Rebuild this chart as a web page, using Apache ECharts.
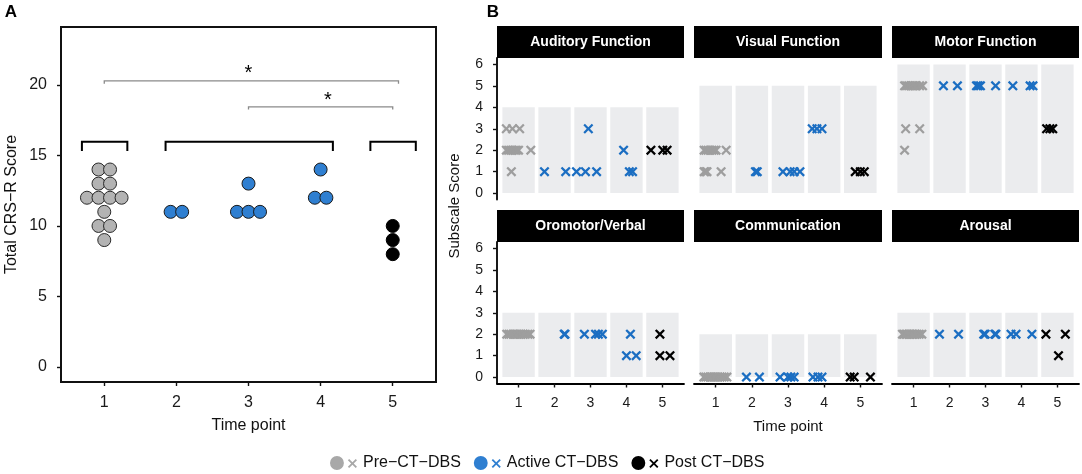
<!DOCTYPE html>
<html><head><meta charset="utf-8">
<script src="https://cdn.jsdelivr.net/npm/echarts@6/dist/echarts.min.js"></script>
<style>html,body{margin:0;padding:0;background:#fff}#c{width:1082px;height:474px}</style>
</head><body><div id="c"></div>
<script>
// ---------------- DATA ----------------
const timePoints = [1, 2, 3, 4, 5];

// Panel A: total CRS-R score per assessment
const totalPre_t1 = [14, 14, 13, 13, 12, 12, 12, 12, 11, 10, 10, 9];
const totalActive_t2 = [11, 11];
const totalActive_t3 = [13, 11, 11, 11];
const totalActive_t4 = [14, 12, 12];
const totalPost_t5 = [10, 9, 8];
const yTicksA = [0, 5, 10, 15, 20];

// Panel A annotations (data coordinates)
const bracketSpans = [[0.69, 1.32], [1.85, 4.17], [4.69, 5.32]];
const bracketLevel = [15.96, 15.32];          // top, leg end
const sigLines = [[1.0, 5.08, 20.28, 20.07], [3.0, 5.0, 18.44, 18.26]]; // x1, x2, y, leg end
const sigStars = [[3.0, 20.8], [4.1, 18.9]];

// Panel B: subscales
const facetNames = ['Auditory Function', 'Visual Function', 'Motor Function',
                    'Oromotor/Verbal', 'Communication', 'Arousal'];
const facetMax = [4, 5, 6, 3, 2, 3];
const yTicksB = [0, 1, 2, 3, 4, 5, 6];

// [time point + jitter, score]
const audPre = [[0.66,3],[0.83,3],[1.03,3],[0.66,2],[0.72,2],[0.78,2],[0.83,2],[0.89,2],[0.94,2],[1.0,2],[1.34,2],[0.80,1]];
const audActive = [[1.72,1],[2.31,1],[2.94,3],[2.61,1],[2.86,1],[3.17,1],[3.92,2],[4.08,1],[4.17,1]];
const audPost = [[4.68,2],[5.01,2],[5.13,2]];

const visPre = [[0.68,2],[0.73,2],[0.79,2],[0.85,2],[0.90,2],[0.96,2],[1.01,2],[1.29,2],[0.68,1],[0.72,1],[0.76,1],[1.15,1]];
const visActive = [[2.10,1],[2.15,1],[2.86,1],[3.06,1],[3.17,1],[3.33,1],[3.67,3],[3.80,3],[3.94,3]];
const visPost = [[4.86,1],[5.0,1],[5.11,1]];

const motPre = [[0.75,5],[0.80,5],[0.86,5],[0.92,5],[0.97,5],[1.03,5],[1.08,5],[1.17,5],[1.25,5],[0.78,3],[1.17,3],[0.75,2]];
const motActive = [[1.83,5],[2.22,5],[2.75,5],[2.80,5],[2.86,5],[3.28,5],[3.76,5],[4.24,5],[4.32,5]];
const motPost = [[4.70,3],[4.79,3],[4.87,3]];

const oroPre = [[0.67,2],[0.73,2],[0.78,2],[0.85,2],[0.90,2],[0.96,2],[1.02,2],[1.06,2],[1.13,2],[1.19,2],[1.26,2],[1.32,2]];
const oroActive = [[2.27,2],[2.29,2],[2.83,2],[3.14,2],[3.22,2],[3.33,2],[4.11,2],[4.0,1],[4.27,1]];
const oroPost = [[4.93,2],[4.93,1],[5.21,1]];

const comPre = [[0.67,0],[0.72,0],[0.78,0],[0.84,0],[0.89,0],[0.95,0],[1.0,0],[1.06,0],[1.12,0],[1.18,0],[1.24,0],[1.31,0]];
const comActive = [[1.85,0],[2.21,0],[2.78,0],[3.0,0],[3.08,0],[3.17,0],[3.69,0],[3.83,0],[3.94,0]];
const comPost = [[4.72,0],[4.83,0],[5.28,0]];

const arPre = [[0.69,2],[0.73,2],[0.78,2],[0.82,2],[0.87,2],[0.91,2],[0.96,2],[1.0,2],[1.05,2],[1.10,2],[1.16,2],[1.23,2]];
const arActive = [[1.72,2],[2.25,2],[2.95,2],[2.99,2],[3.26,2],[3.29,2],[3.71,2],[3.85,2],[4.29,2]];
const arPost = [[4.68,2],[5.22,2],[5.03,1]];

const facetPre = [audPre, visPre, motPre, oroPre, comPre, arPre];
const facetActive = [audActive, visActive, motActive, oroActive, comActive, arActive];
const facetPost = [audPost, visPost, motPost, oroPost, comPost, arPost];

// ---------------- STYLE ----------------
const FONT = '"Liberation Sans", Arial, sans-serif';
const NAME_PRE = 'Pre\u2212CT\u2212DBS', NAME_ACT = 'Active CT\u2212DBS', NAME_POST = 'Post CT\u2212DBS';
const COL_PRE_DOT = '#b3b3b3', COL_ACT_DOT = '#2f7fd1', COL_POST_DOT = '#000000';
const COL_PRE_X = '#9e9e9e', COL_ACT_X = '#1b6ec2', COL_POST_X = '#000000';
const XSYM = 'path://M0,1.6L1.6,0L5,3.4L8.4,0L10,1.6L6.6,5L10,8.4L8.4,10L5,6.6L1.6,10L0,8.4L3.4,5Z';
const LEGEND_ICON = 'path://M0,7A7,7 0 1,0 14,7A7,7 0 1,0 0,7Z M18,4.2L19.3,2.9L22.6,6.2L25.9,2.9L27.2,4.2L23.9,7.5L27.2,10.8L25.9,12.1L22.6,8.8L19.3,12.1L18,10.8L21.3,7.5Z';
const dotStep = 0.16;

function dotLayout(t, values) {
  const counts = {};
  values.forEach(v => counts[v] = (counts[v] || 0) + 1);
  const out = [];
  Object.keys(counts).forEach(k => {
    const n = counts[k];
    for (let i = 0; i < n; i++) out.push([t + (i - (n - 1) / 2) * dotStep, +k]);
  });
  return out;
}

const grids = [
  { left: 61, top: 27, width: 375, height: 355, show: true, borderColor: '#111', borderWidth: 2, outerBoundsMode: 'none' },
  { left: 497, top: 58, width: 187, height: 141.5, outerBoundsMode: 'none' },
  { left: 694, top: 58, width: 188, height: 141.5, outerBoundsMode: 'none' },
  { left: 892, top: 58, width: 187, height: 141.5, outerBoundsMode: 'none' },
  { left: 497, top: 242, width: 187, height: 141.5, outerBoundsMode: 'none' },
  { left: 694, top: 242, width: 188, height: 141.5, outerBoundsMode: 'none' },
  { left: 892, top: 242, width: 187, height: 141.5, outerBoundsMode: 'none' }
];

const labelStyleA = { color: '#1a1a1a', fontSize: 16, fontFamily: FONT };
const labelStyleB = { color: '#1a1a1a', fontSize: 14, fontFamily: FONT };

const xAxes = [{
  type: 'value', gridIndex: 0, min: 0.4, max: 5.6,
  axisLine: { show: false, onZero: false },
  axisTick: { show: true, customValues: timePoints, length: 4, lineStyle: { color: '#111', width: 1.4 } },
  axisLabel: Object.assign({ customValues: timePoints, margin: 13 }, labelStyleA),
  splitLine: { show: false },
  name: 'Time point', nameLocation: 'middle', nameGap: 36,
  nameTextStyle: { fontSize: 16, color: '#111', fontFamily: FONT }
}];
const yAxes = [{
  type: 'value', gridIndex: 0, min: -1.06, max: 24.1,
  axisLine: { show: false, onZero: false },
  axisTick: { show: true, customValues: yTicksA, length: 4, lineStyle: { color: '#111', width: 1.4 } },
  axisLabel: Object.assign({ customValues: yTicksA, margin: 14 }, labelStyleA),
  splitLine: { show: false },
  name: 'Total CRS\u2212R Score', nameLocation: 'middle', nameGap: 41,
  nameTextStyle: { fontSize: 16, color: '#111', fontFamily: FONT }
}];

for (let f = 0; f < 6; f++) {
  const g = f + 1;
  const bottomRow = f >= 3, leftCol = (f % 3) === 0;
  xAxes.push({
    type: 'value', gridIndex: g, min: 0.4, max: 5.6,
    show: bottomRow,
    axisLine: { show: bottomRow, onZero: false, lineStyle: { color: '#000', width: 1.8 } },
    axisTick: { show: bottomRow, customValues: timePoints, length: 4, lineStyle: { color: '#111', width: 1.4 } },
    axisLabel: Object.assign({ show: bottomRow, customValues: timePoints, margin: 13 }, labelStyleB),
    splitLine: { show: false },
    name: f === 4 ? 'Time point' : '', nameLocation: 'middle', nameGap: 36,
    nameTextStyle: { fontSize: 15, color: '#111', fontFamily: FONT }
  });
  yAxes.push({
    type: 'value', gridIndex: g, min: -0.3, max: 6.3,
    show: leftCol,
    axisLine: { show: leftCol, onZero: false, lineStyle: { color: '#000', width: 1.8 } },
    axisTick: { show: leftCol, customValues: yTicksB, length: 4, lineStyle: { color: '#111', width: 1.4 } },
    axisLabel: Object.assign({ show: leftCol, customValues: yTicksB, margin: 14 }, labelStyleB),
    splitLine: { show: false }
  });
}

const series = [];
// Panel A dots
series.push({
  name: NAME_PRE, type: 'scatter', xAxisIndex: 0, yAxisIndex: 0, symbol: 'circle', symbolSize: 13,
  itemStyle: { color: COL_PRE_DOT, borderColor: '#2a2a2a', borderWidth: 1, opacity: 1 },
  data: dotLayout(1, totalPre_t1), z: 5
});
series.push({
  name: NAME_ACT, type: 'scatter', xAxisIndex: 0, yAxisIndex: 0, symbol: 'circle', symbolSize: 13,
  itemStyle: { color: COL_ACT_DOT, borderColor: '#1a1a1a', borderWidth: 1, opacity: 1 },
  data: [].concat(dotLayout(2, totalActive_t2), dotLayout(3, totalActive_t3), dotLayout(4, totalActive_t4)), z: 5
});
series.push({
  name: NAME_POST, type: 'scatter', xAxisIndex: 0, yAxisIndex: 0, symbol: 'circle', symbolSize: 13,
  itemStyle: { color: COL_POST_DOT, borderColor: '#000', borderWidth: 1, opacity: 1 },
  data: dotLayout(5, totalPost_t5), z: 5
});
// Brackets
series.push({
  type: 'custom', xAxisIndex: 0, yAxisIndex: 0, silent: true, z: 4,
  data: bracketSpans.map(s => [s[0], s[1], bracketLevel[0], bracketLevel[1]]),
  encode: { x: [0, 1], y: [2, 3] },
  renderItem: function (params, api) {
    const a = api.coord([api.value(0), api.value(3)]);
    const b = api.coord([api.value(0), api.value(2)]);
    const c = api.coord([api.value(1), api.value(2)]);
    const d = api.coord([api.value(1), api.value(3)]);
    return { type: 'polyline', shape: { points: [a, b, c, d] }, style: { stroke: '#000', lineWidth: 2, fill: null } };
  }
});
// Significance lines
series.push({
  type: 'custom', xAxisIndex: 0, yAxisIndex: 0, silent: true, z: 4,
  data: sigLines,
  encode: { x: [0, 1], y: [2, 3] },
  renderItem: function (params, api) {
    const a = api.coord([api.value(0), api.value(3)]);
    const b = api.coord([api.value(0), api.value(2)]);
    const c = api.coord([api.value(1), api.value(2)]);
    const d = api.coord([api.value(1), api.value(3)]);
    return { type: 'polyline', shape: { points: [a, b, c, d] }, style: { stroke: '#8a8a8a', lineWidth: 1.3, fill: null } };
  }
});
// Stars
series.push({
  type: 'custom', xAxisIndex: 0, yAxisIndex: 0, silent: true, z: 4,
  data: sigStars,
  renderItem: function (params, api) {
    const p = api.coord([api.value(0), api.value(1)]);
    return { type: 'text', style: { text: '*', x: p[0], y: p[1], align: 'center', verticalAlign: 'middle',
      fontSize: 20, fontFamily: FONT, fill: '#000' } };
  }
});

// Panel B facets
for (let f = 0; f < 6; f++) {
  const g = f + 1;
  series.push({
    type: 'custom', xAxisIndex: g, yAxisIndex: g, silent: true, z: 1,
    data: timePoints.map(t => [t, facetMax[f]]),
    renderItem: function (params, api) {
      const x = api.value(0), top = api.value(1);
      const p0 = api.coord([x - 0.45, top]);
      const p1 = api.coord([x + 0.45, 0]);
      return { type: 'rect', shape: { x: p0[0], y: p0[1], width: p1[0] - p0[0], height: p1[1] - p0[1] },
        style: { fill: '#ebecee' } };
    }
  });
  [[NAME_PRE, facetPre[f], COL_PRE_X], [NAME_ACT, facetActive[f], COL_ACT_X], [NAME_POST, facetPost[f], COL_POST_X]]
    .forEach(([nm, d, col]) => {
      series.push({
        name: nm, type: 'scatter', xAxisIndex: g, yAxisIndex: g, symbol: XSYM, symbolSize: 10,
        itemStyle: { color: col, opacity: 1 }, data: d, z: 5
      });
    });
}

// Facet strips and decorative labels
const graphic = [];
grids.slice(1).forEach((gr, i) => {
  const top = gr.top - 32;
  graphic.push({ type: 'rect', left: gr.left, top: top, shape: { width: gr.width, height: 32 }, style: { fill: '#000' }, silent: true });
  graphic.push({ type: 'text', x: gr.left + gr.width / 2, y: top + 16,
    style: { text: facetNames[i], fill: '#fff', font: 'bold 14px ' + FONT, align: 'center', verticalAlign: 'middle' }, silent: true });
});
graphic.push({ type: 'text', x: 455, y: 206, rotation: Math.PI / 2,
  style: { text: 'Subscale Score', fill: '#111', font: '15px ' + FONT, align: 'center', verticalAlign: 'middle' } });
graphic.push({ type: 'text', x: 11, y: 12, style: { text: 'A', fill: '#000', font: 'bold 17px ' + FONT, align: 'center', verticalAlign: 'middle' } });
graphic.push({ type: 'text', x: 493, y: 12, style: { text: 'B', fill: '#000', font: 'bold 17px ' + FONT, align: 'center', verticalAlign: 'middle' } });

const option = {
  animation: false,
  backgroundColor: '#fff',
  textStyle: { fontFamily: FONT },
  grid: grids,
  xAxis: xAxes,
  yAxis: yAxes,
  legend: {
    top: 455, left: 330, padding: 0, itemWidth: 27, itemHeight: 14, itemGap: 13,
    textStyle: { fontSize: 16, color: '#111', fontFamily: FONT, padding: [0, 0, 0, 1] },
    data: [
      { name: NAME_PRE, icon: LEGEND_ICON, itemStyle: { color: '#a8a8a8', borderWidth: 0 } },
      { name: NAME_ACT, icon: LEGEND_ICON, itemStyle: { color: COL_ACT_DOT, borderWidth: 0 } },
      { name: NAME_POST, icon: LEGEND_ICON, itemStyle: { color: '#000', borderWidth: 0 } }
    ]
  },
  graphic: graphic,
  series: series
};

const chart = echarts.init(document.getElementById('c'), null, { renderer: 'canvas' });
chart.setOption(option);
</script>
</body></html>
